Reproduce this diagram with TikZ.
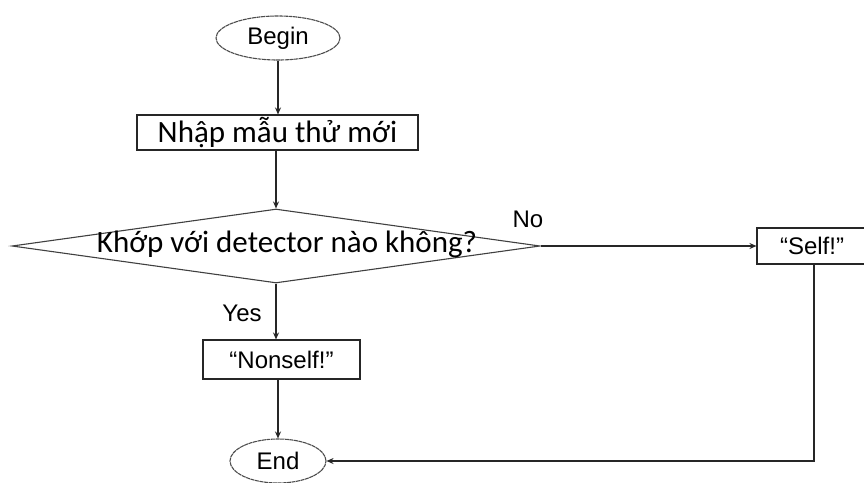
\documentclass[tikz,border=0pt]{standalone}
\usepackage{fontspec}
\setmainfont{Liberation Sans}
\newfontfamily\viet{Carlito}
\usetikzlibrary{shapes.geometric,arrows.meta,shadows}
\begin{document}
\begin{tikzpicture}[x=1pt,y=-1pt,
  flow/.style={draw=black!85, line width=1.1pt},
  arr/.style={flow, -{Stealth[length=7pt,width=6pt]}},
  shade/.style={fill=white, drop shadow={shadow xshift=1.2pt, shadow yshift=-1.2pt, fill=black!35, opacity=1}},
  terminal/.style={ellipse, flow, draw=black!70, dash pattern=on 4pt off 0.6pt, inner sep=0pt, font=\fontsize{24}{28}\selectfont},
  procbox/.style={rectangle, flow, shade, inner sep=0pt},
  decision/.style={diamond, flow, draw=black!75, inner sep=0pt, aspect=7.1},
  lbl/.style={font=\fontsize{24}{28}\selectfont},
  viettext/.style={font=\viet\fontsize{31}{36}\selectfont}
]
\useasboundingbox (0,0) rectangle (864,482);

% start and end
\node[terminal, minimum width=124pt, minimum height=44pt] (begin) at (278,38) {Begin};
\node[terminal, minimum width=96pt, minimum height=44pt] (end) at (278,461) {End};

% input step
\node[procbox, viettext, minimum width=281pt, minimum height=35pt]
  (input) at (277.5,132.5) {Nhập mẫu thử mới};

% test
\node[decision, minimum width=528pt, minimum height=74pt] (test) at (276,246) {};
\node[viettext] (testtext) at (287,244) {Khớp với detector nào không?};

% outcomes
\node[procbox, minimum width=157pt, minimum height=39pt, lbl] (nonself) at (281.5,359.5) {“Nonself!”};
\node[procbox, minimum width=110pt, minimum height=36pt, lbl] (self) at (812,246) {“Self!”};

% connectors
\draw[arr] (begin.south) -- (begin.south |- input.north);
\draw[arr] (input.south -| test.north) -- (test.north);
\draw[arr] (test.south) -- (test.south |- nonself.north);
\draw[arr] (nonself.south -| end.north) -- (end.north);
\draw[arr] (test.east) -- (self.west);
\coordinate (corner) at (814,461);
\draw[arr] (self.south -| corner) -- (corner) -- (end.east);

% branch labels
\node[lbl] (yes) at (242,313) {Yes};
\node[lbl] (no) at (528,219) {No};
\end{tikzpicture}
\end{document}
